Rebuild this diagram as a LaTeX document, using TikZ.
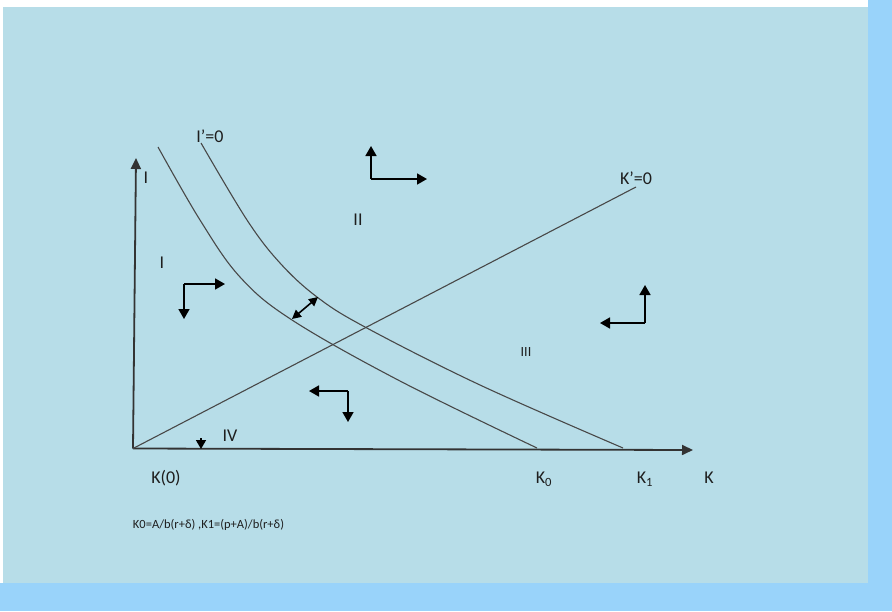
\documentclass[tikz,border=0pt]{standalone}
\usepackage{fontspec}
\setmainfont{Carlito}
\usetikzlibrary{arrows.meta}
\definecolor{bgin}{RGB}{183,221,232}
\definecolor{bgout}{RGB}{153,211,250}
\definecolor{curvecol}{RGB}{72,72,72}
\definecolor{txt}{RGB}{30,30,30}
\begin{document}
\begin{tikzpicture}[x=1pt,y=-1pt,
  lbl/.style={font=\fontsize{18}{20}\selectfont, text=txt, inner sep=0pt},
  smalllbl/.style={font=\fontsize{14}{16}\selectfont, text=txt, inner sep=0pt},
  formula/.style={font=\fontsize{12.5}{14}\selectfont, text=txt, inner sep=0pt},
  axisline/.style={draw=black!80, line width=1.8pt, -{Triangle[length=11pt,width=10pt]}},
  curveline/.style={draw=curvecol, line width=1.1pt},
  dirarrow/.style={draw=black, line width=1.7pt, -{Triangle[length=10pt,width=11pt]}},
  dblarrow/.style={draw=black, line width=1.6pt, {Triangle[length=9pt,width=9pt]}-{Triangle[length=9pt,width=9pt]}}
]
\useasboundingbox (0,0) rectangle (892,611);
\fill[white] (0,0) rectangle (892,611);
\fill[bgout] (868,0) rectangle (892,611);
\fill[bgout] (0,583) rectangle (892,611);
\fill[bgin] (3,7) rectangle (868,583);

% axes
\coordinate (O) at (133,448.5);
\coordinate (Itop) at (136,158);
\coordinate (Kend) at (693,450);
\draw[axisline] (O) -- (Itop);
\draw[axisline] (O) -- (Kend);

% K'=0 line
\coordinate (Kp) at (636,187);
\draw[curveline] (O) -- (Kp);

% I'=0 curves
\draw[curveline] plot[smooth, tension=0.6] coordinates {(158,147) (200,220) (240,277) (292,320) (400,381) (537,448)};
\draw[curveline] plot[smooth, tension=0.6] coordinates {(201,143) (247,220) (280,263) (317,297) (365,327) (480,385) (623,448)};

% double arrow between curves
\coordinate (da1) at (292,319);
\coordinate (da2) at (318,297);
\draw[dblarrow] (da1) -- (da2);

% direction arrows region I
\coordinate (c1) at (184,284);
\coordinate (c1d) at (184,319);
\coordinate (c1r) at (225,284);
\draw[dirarrow] (c1) -- (c1d);
\draw[dirarrow] (c1) -- (c1r);
% region II
\coordinate (c2) at (371,179);
\coordinate (c2u) at (371,146);
\coordinate (c2r) at (427,179);
\draw[dirarrow] (c2) -- (c2u);
\draw[dirarrow] (c2) -- (c2r);
% region III
\coordinate (c3) at (645,323);
\coordinate (c3u) at (645,285);
\coordinate (c3l) at (600,323);
\draw[dirarrow] (c3) -- (c3u);
\draw[dirarrow] (c3) -- (c3l);
% region IV
\coordinate (c4) at (348,391);
\coordinate (c4l) at (309,391);
\coordinate (c4d) at (348,422);
\draw[dirarrow] (c4) -- (c4l);
\draw[dirarrow] (c4) -- (c4d);
% small arrow on axis
\coordinate (s1) at (201,438);
\coordinate (s2) at (201,449);
\draw[draw=black, line width=1.5pt, -{Triangle[length=9pt,width=10pt]}] (s1) -- (s2);

% labels
\node[lbl] (lI) at (146,178) {I};
\node[lbl] (lIp) at (210,136) {I’=0};
\node[lbl] (lKp) at (636,178) {K’=0};
\node[lbl] (lII) at (358,220) {II};
\node[lbl] (lRI) at (162,263) {I};
\node[smalllbl] (lIII) at (526,352) {III};
\node[lbl] (lIV) at (230,436) {IV};
\node[lbl] (lK0o) at (166,478) {K(0)};
\node[lbl] (lK0) at (544,479) {K\textsubscript{0}};
\node[lbl] (lK1) at (645,479) {K\textsubscript{1}};
\node[lbl] (lK) at (709,478) {K};
\node[formula] (lform) at (208.5,525) {K0=A/b(r+δ) ,K1=(p+A)/b(r+δ)};
\end{tikzpicture}
\end{document}
